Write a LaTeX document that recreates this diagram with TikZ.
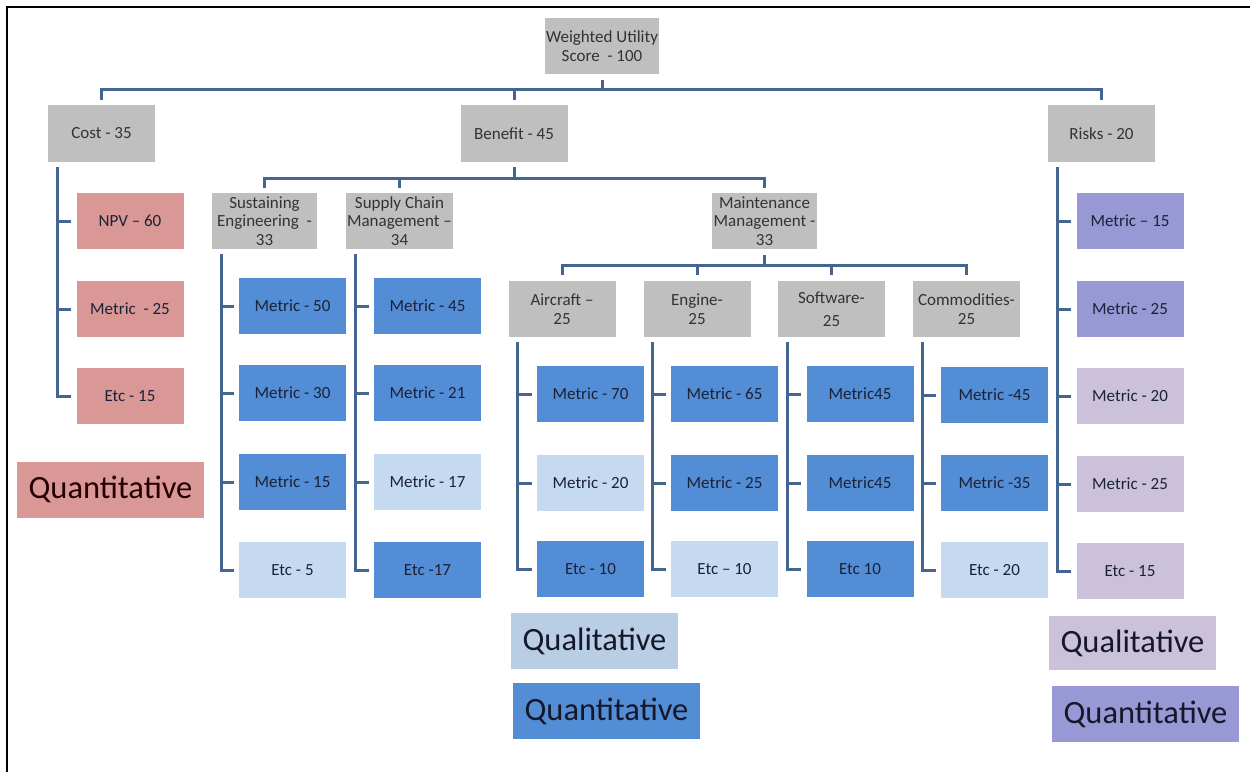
\documentclass[tikz,border=0pt]{standalone}
\usepackage{fontspec}
\setmainfont{Carlito}
\definecolor{boxgray}{HTML}{BFBFBF}
\definecolor{pinkfill}{HTML}{D99795}
\definecolor{bluedark}{HTML}{538DD5}
\definecolor{bluelight}{HTML}{C5D9F1}
\definecolor{bluelegend}{HTML}{B9CDE5}
\definecolor{purpledark}{HTML}{9898D4}
\definecolor{lavender}{HTML}{CCC1DA}
\definecolor{linecol}{HTML}{44658F}
\definecolor{txtgray}{HTML}{333333}
\definecolor{txtdark}{HTML}{1A2238}
\definecolor{legtxt}{HTML}{15182A}
\tikzset{
  base/.style={rectangle, inner sep=1pt, align=center,
    font=\fontsize{17}{18.5}\selectfont, text=txtdark},
  grp/.style={base, fill=boxgray, text=txtgray,
    minimum width=107pt, minimum height=57pt},
  sub/.style={grp, minimum height=56pt},
  leaf/.style={base, minimum width=107pt, minimum height=56pt},
  pinkbox/.style={leaf, fill=pinkfill},
  dkblue/.style={leaf, fill=bluedark},
  ltblue/.style={leaf, fill=bluelight},
  dkpurple/.style={leaf, fill=purpledark},
  ltpurple/.style={leaf, fill=lavender},
  legend/.style={rectangle, inner sep=0pt, text=legtxt,
    font=\fontsize{32.5}{36}\selectfont, minimum height=56pt},
  conn/.style={draw=linecol, line width=3pt, line join=miter},
}
\begin{document}
\begin{tikzpicture}[x=1pt, y=-1pt]
  \useasboundingbox (0,0) rectangle (1250,772);
  \fill[white] (0,0) rectangle (1250,772);
  % page frame (top and left edges)
  \draw[line width=2pt, black] (7,772) -- (7,7) -- (1250,7);

  % ---- hierarchy boxes ----
  \node[grp, minimum width=108pt, minimum height=56pt] (root) at (602,46)
    {Weighted Utility\\Score~ - 100};
  \node[grp] (cost)    at (101.5,133.5) {Cost - 35};
  \node[grp] (benefit) at (514,133.5)   {Benefit - 45};
  \node[grp] (risks)   at (1101.5,133.5){Risks - 20};

  \node[sub, minimum width=105pt] (sust)   at (264.5,221) {Sustaining\\Engineering~ -\\33};
  \node[sub, minimum width=107pt] (supply) at (399.5,221) {Supply Chain\\Management --\\34};
  \node[sub, minimum width=105pt] (maint)  at (764.5,221) {Maintenance\\Management -\\33};

  \node[sub] (air)  at (562,309)   {Aircraft --\\25};
  \node[sub] (eng)  at (697,309)   {Engine-\\25};
  \node[sub] (soft) at (831.5,309) {Software-\\[5pt]25};
  \node[sub] (comm) at (966.5,309) {Commodities-\\25};

  % ---- leaves ----
  \node[pinkbox] (c1) at (130,221) {NPV -- 60};
  \node[pinkbox] (c2) at (130,309) {Metric~ - 25};
  \node[pinkbox] (c3) at (130,396) {Etc - 15};

  \node[dkblue] (s1) at (292.5,306) {Metric - 50};
  \node[dkblue] (s2) at (292.5,393) {Metric - 30};
  \node[dkblue] (s3) at (292.5,482) {Metric - 15};
  \node[ltblue] (s4) at (292.5,570) {Etc - 5};

  \node[dkblue] (p1) at (427.5,306) {Metric - 45};
  \node[dkblue] (p2) at (427.5,393) {Metric - 21};
  \node[ltblue] (p3) at (427.5,482) {Metric - 17};
  \node[dkblue] (p4) at (427.5,570) {Etc -17};

  \node[dkblue] (a1) at (590.5,394) {Metric - 70};
  \node[ltblue] (a2) at (590.5,483) {Metric - 20};
  \node[dkblue] (a3) at (590.5,569) {Etc - 10};

  \node[dkblue] (e1) at (724.5,394) {Metric - 65};
  \node[dkblue] (e2) at (724.5,483) {Metric - 25};
  \node[ltblue] (e3) at (724.5,569) {Etc -- 10};

  \node[dkblue] (w1) at (860,394) {Metric45};
  \node[dkblue] (w2) at (860,483) {Metric45};
  \node[dkblue] (w3) at (860,569) {Etc 10};

  \node[dkblue] (m1) at (994.5,395) {Metric -45};
  \node[dkblue] (m2) at (994.5,483) {Metric -35};
  \node[ltblue] (m3) at (994.5,570) {Etc - 20};

  \node[dkpurple] (r1) at (1130,221) {Metric -- 15};
  \node[dkpurple] (r2) at (1130,309) {Metric - 25};
  \node[ltpurple] (r3) at (1130,396) {Metric - 20};
  \node[ltpurple] (r4) at (1130,484) {Metric - 25};
  \node[ltpurple] (r5) at (1130,571) {Etc - 15};

  % ---- legends ----
  \node[legend, fill=pinkfill, minimum width=187pt, text=black!85!red] (lgred) at (110.5,489.5) {Quantitative};
  \node[legend, fill=bluelegend, minimum width=167pt] (lgbql) at (594.5,641) {Qualitative};
  \node[legend, fill=bluedark, minimum width=187pt] (lgbqn) at (606.5,711) {Quantitative};
  \node[legend, fill=lavender, minimum width=167pt, minimum height=54pt] (lgpql) at (1132.5,643) {Qualitative};
  \node[legend, fill=purpledark, minimum width=187pt] (lgpqn) at (1145.5,714) {Quantitative};

  % ---- tree buses ----
  \coordinate (bus1) at (602,89);
  \draw[conn] ([yshift=-6pt]root.south) -- (bus1);
  \draw[conn] ([yshift=5pt]cost.north) |- (bus1) -| ([yshift=5pt]risks.north);
  \draw[conn] ([yshift=5pt]benefit.north) -- (benefit.north |- bus1);

  \coordinate (bus2) at (514,178);
  \draw[conn] ([yshift=-5pt]benefit.south) -- (bus2);
  \draw[conn] ([yshift=5pt]sust.north) |- (bus2) -| ([yshift=5pt]maint.north);
  \draw[conn] ([yshift=5pt]supply.north) -- (supply.north |- bus2);

  \coordinate (bus3) at (764.5,265);
  \draw[conn] ([yshift=-6pt]maint.south) -- (bus3);
  \draw[conn] ([yshift=6pt]air.north) |- (bus3) -| ([yshift=6pt]comm.north);
  \draw[conn] ([yshift=6pt]eng.north) -- (eng.north |- bus3);
  \draw[conn] ([yshift=6pt]soft.north) -- (soft.north |- bus3);

  % ---- side rails: vertical line from a parent, ticks to each leaf ----
  \newcommand{\siderail}[3]{%
    \coordinate (#1v) at ([xshift=9.5pt,yshift=-5pt]#1.south west);
    \draw[conn] (#1v) |- ([xshift=-5pt]#3.west);
    \foreach \k in {#2}
      \draw[conn] (#1v |- \k.west) -- ([xshift=-5pt]\k.west);
  }
  \siderail{cost}{c1,c2}{c3}
  \siderail{sust}{s1,s2,s3}{s4}
  \siderail{supply}{p1,p2,p3}{p4}
  \siderail{air}{a1,a2}{a3}
  \siderail{eng}{e1,e2}{e3}
  \siderail{soft}{w1,w2}{w3}
  \siderail{comm}{m1,m2}{m3}
  \siderail{risks}{r1,r2,r3,r4}{r5}
\end{tikzpicture}
\end{document}
